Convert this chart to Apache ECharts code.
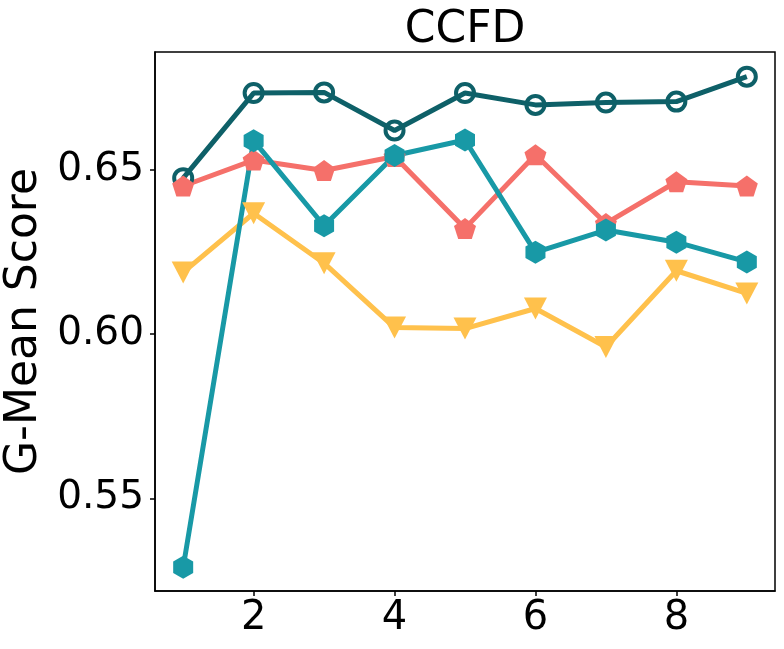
<!DOCTYPE html>
<html>
<head>
<meta charset="utf-8">
<script src="https://cdn.jsdelivr.net/npm/echarts@6/dist/echarts.min.js"></script>
<style>
  html, body { margin: 0; padding: 0; background: #fff; }
  #chart { width: 784px; height: 649px; }
</style>
</head>
<body>
<div id="chart"></div>
<script>
// G-Mean per step, CCFD
var steps = [1, 2, 3, 4, 5, 6, 7, 8, 9];
var circleVals  = [0.6475, 0.6734, 0.6736, 0.6620, 0.6734, 0.6698, 0.6705, 0.6708, 0.6784];
var pentaVals   = [0.6451, 0.6530, 0.6498, 0.6541, 0.6322, 0.6546, 0.6337, 0.6464, 0.6451];
var triVals     = [0.6188, 0.6368, 0.6216, 0.6020, 0.6017, 0.6078, 0.5961, 0.6193, 0.6124];
var hexVals     = [0.5290, 0.6589, 0.6330, 0.6544, 0.6591, 0.6249, 0.6317, 0.6280, 0.6220];
var xTicks = [2, 4, 6, 8];
var yTicks = [0.55, 0.60, 0.65];

var FONT = 'DejaVu Sans';
var PENTAGON = 'path://M50 0 L2.45 34.55 L20.6 90.45 L79.4 90.45 L97.55 34.55 Z';
var HEXAGON = 'path://M50 0 L6.7 25 L6.7 75 L50 100 L93.3 75 L93.3 25 Z';

function pairs(vals) {
  return steps.map(function(s, i) { return [s, vals[i]]; });
}

function lineSeries(vals, color, symbol, size, extra) {
  var s = {
    type: 'line',
    data: pairs(vals),
    symbol: symbol,
    symbolSize: size,
    showAllSymbol: true,
    lineStyle: { color: color, width: 5 },
    itemStyle: { color: color, borderWidth: 0 },
    emphasis: { disabled: true },
    animation: false
  };
  for (var k in extra) s[k] = extra[k];
  return s;
}

var chart = echarts.init(document.getElementById('chart'));
chart.setOption({
  backgroundColor: '#fff',
  animation: false,
  title: {
    text: 'CCFD',
    left: 465,
    top: 9,
    padding: 0,
    textAlign: 'center',
    textStyle: { fontFamily: FONT, fontSize: 44, fontWeight: 'normal', color: '#000' }
  },
  grid: {
    left: 155, right: 9, top: 52, bottom: 58,
    outerBoundsMode: 'none',
    containLabel: false,
    show: true, borderColor: '#000', borderWidth: 1.5, backgroundColor: 'transparent'
  },
  xAxis: {
    type: 'value',
    min: 0.6, max: 9.4,
    splitLine: { show: false },
    axisLine: { show: true, onZero: false, lineStyle: { color: '#000', width: 1.5 } },
    axisTick: { show: true, length: 5, lineStyle: { color: '#000', width: 1.5 }, customValues: xTicks },
    axisLabel: { customValues: xTicks, fontFamily: FONT, fontSize: 40, color: '#000', margin: 8 }
  },
  yAxis: {
    type: 'value',
    min: 0.5218, max: 0.6859,
    name: 'G-Mean Score',
    nameLocation: 'middle',
    nameRotate: 90,
    nameGap: 95,
    nameTextStyle: { fontFamily: FONT, fontSize: 44, color: '#000' },
    splitLine: { show: false },
    axisLine: { show: true, onZero: false, lineStyle: { color: '#000', width: 1.5 } },
    axisTick: { show: true, length: 5, lineStyle: { color: '#000', width: 1.5 }, customValues: yTicks },
    axisLabel: {
      customValues: yTicks, fontFamily: FONT, fontSize: 39, color: '#000', margin: 11,
      formatter: function(v) { return v.toFixed(2); }
    }
  },
  series: [
    lineSeries(circleVals, '#0e6068', 'circle', 18, {
      itemStyle: { color: 'rgba(0,0,0,0)', borderColor: '#0e6068', borderWidth: 4 }
    }),
    lineSeries(pentaVals, '#f5706a', PENTAGON, [22, 21], {}),
    lineSeries(triVals, '#ffc14c', 'triangle', [23, 22], { symbolRotate: 180 }),
    lineSeries(hexVals, '#1899a6', HEXAGON, [20, 23], {})
  ]
});
</script>
</body>
</html>
